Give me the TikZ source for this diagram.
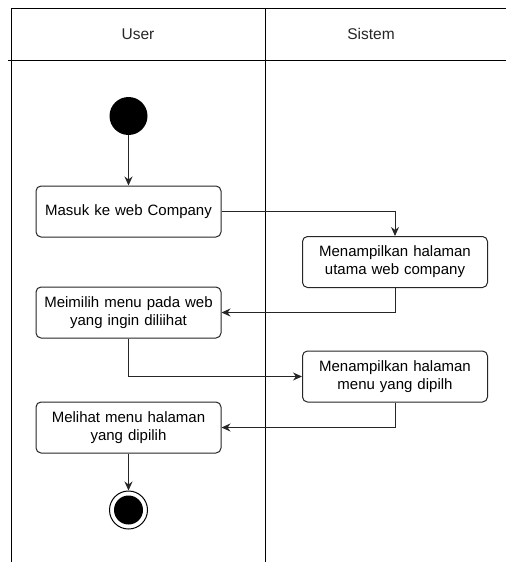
\documentclass[tikz,border=0pt]{standalone}
\usepackage{fontspec}
\setmainfont{Liberation Sans}
\usetikzlibrary{arrows.meta}
\begin{document}
\begin{tikzpicture}[x=1pt,y=-1pt,
  lane/.style={line width=1pt,draw=black},
  actbox/.style={draw=black!85,line width=1pt,rounded corners=5pt,fill=white,
    minimum width=185pt,minimum height=51pt,text width=180pt,align=center,
    inner sep=0pt,font=\fontsize{15}{18}\selectfont},
  head/.style={font=\fontsize{15.5}{18}\selectfont,text=black!85},
  flow/.style={draw=black!85,line width=1pt,-{Stealth[length=9pt,width=8pt]}}]
\useasboundingbox (0,0) rectangle (506,562);
% swimlane frame
\draw[lane] (11,562) -- (11,8) -- (506,8);
\draw[lane] (8,60) -- (506,60);
\draw[lane] (265,8) -- (265,562);
\node[head] (hUser) at (138,34) {User};
\node[head] (hSistem) at (371,34) {Sistem};
% activities
\node[circle,fill=black,minimum size=38pt,inner sep=0pt] (start) at (128.5,116) {};
\node[actbox] (a1) at (128.5,211.5) {Masuk ke web Company};
\node[actbox] (a2) at (395,262) {Menampilkan halaman\\utama web company};
\node[actbox] (a3) at (128.5,312.5) {Meimilih menu pada web\\yang ingin diliihat};
\node[actbox] (a4) at (395,376.5) {Menampilkan halaman\\menu yang dipilh};
\node[actbox] (a5) at (128.5,427.5) {Melihat menu halaman\\yang dipilih};
\node[circle,draw=black,line width=1pt,fill=white,minimum size=38pt,inner sep=0pt] (stop) at (128.5,510) {};
\fill[black] (stop.center) circle (14.5);
% control flow
\draw[flow] (start) -- (a1);
\draw[flow] (a1.east) -| (a2.north);
\draw[flow] (a2.south) |- (a3.east);
\draw[flow] (a3.south) |- (a4.west);
\draw[flow] (a4.south) |- (a5.east);
\draw[flow] (a5) -- (stop);
\end{tikzpicture}
\end{document}
